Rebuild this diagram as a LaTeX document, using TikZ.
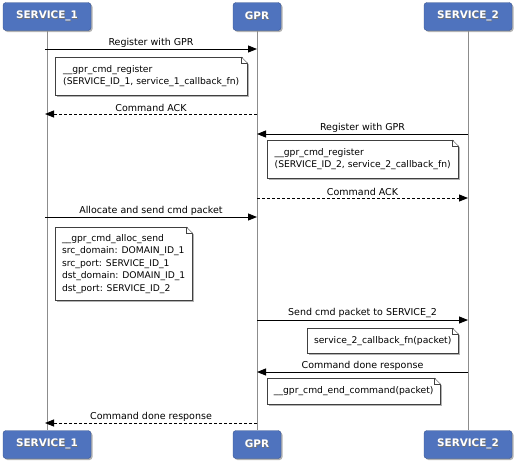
\documentclass[tikz,border=0pt]{standalone}
\usepackage{fontspec}
\setmainfont{DejaVu Sans}
\usetikzlibrary{arrows.meta}
\usetikzlibrary{shadows}
\definecolor{actorblue}{RGB}{79,115,190}
\colorlet{notedraw}{black!75}

% white header text with a dark shadow behind it
\newcommand{\shadowtext}[1]{\makebox[0pt][l]{\hspace{0.7pt}\raisebox{-0.7pt}{\textcolor{black!55}{#1}}}#1}
% folded corner of a note
\newcommand{\dogear}[1]{%
  \fill[white] ([xshift=-6pt,yshift=1pt]#1.north east) -- ([xshift=3pt,yshift=1pt]#1.north east) -- ([xshift=3pt,yshift=-9pt]#1.north east) -- cycle;
  \draw[notedraw] ([xshift=-6pt]#1.north east) -- ([yshift=-6pt]#1.north east);
  \draw[notedraw] ([xshift=-6pt]#1.north east) -- ([xshift=-6pt,yshift=-6pt]#1.north east) -- ([yshift=-6pt]#1.north east);
}

\tikzset{
  actor/.style={draw=actorblue!75!black, fill=actorblue, rounded corners=3pt,
    minimum height=28pt, inner sep=0pt, text=white,
    font=\fontsize{10.4}{12}\selectfont\bfseries,
    drop shadow={shadow xshift=1.5pt, shadow yshift=-1.5pt, fill=black!50, opacity=0.6}},
  lifeline/.style={draw=black!45, line width=0.6pt},
  msg/.style={line width=0.9pt, -{Triangle[length=9pt,width=7pt]}},
  reply/.style={msg, dash pattern=on 3pt off 2pt},
  msglabel/.style={above, inner sep=1.5pt, font=\fontsize{9.5}{11}\selectfont},
  note/.style={draw=notedraw, fill=white, anchor=north west, align=left,
    inner xsep=5pt, inner ysep=0pt, font=\fontsize{9.2}{12}\selectfont,
    drop shadow={shadow xshift=2pt, shadow yshift=-2pt, fill=black!50, opacity=0.6}},
}

\begin{document}
\begin{tikzpicture}[x=1pt,y=-1pt]
  \useasboundingbox (0,0) rectangle (516,464);

  % ---------- Actors ----------
  \node[actor, minimum width=88pt] at (47,16.5) (s1top) {\shadowtext{SERVICE\_1}};
  \node[actor, minimum width=48pt] at (257,16.5) (gprtop) {\shadowtext{GPR}};
  \node[actor, minimum width=88pt] at (468,16.5) (s2top) {\shadowtext{SERVICE\_2}};

  \node[actor, minimum width=88pt] at (47,444.5) (s1bot) {\shadowtext{SERVICE\_1}};
  \node[actor, minimum width=48pt] at (257,444.5) (gprbot) {\shadowtext{GPR}};
  \node[actor, minimum width=88pt] at (468,444.5) (s2bot) {\shadowtext{SERVICE\_2}};

  % ---------- Lifelines ----------
  \draw[lifeline] (s1top) -- (s1bot);
  \draw[lifeline] (gprtop) -- (gprbot);
  \draw[lifeline] (s2top) -- (s2bot);

  % message rows on each lifeline
  \foreach \r/\yy in {1/49, 2/114, 3/134, 4/198, 5/217, 6/320, 7/372, 8/423} {
    \coordinate (s1r\r) at (45,\yy);
    \coordinate (gprr\r) at (257,\yy);
    \coordinate (s2r\r) at (468,\yy);
  }

  % ---------- Messages ----------
  \draw[msg] (s1r1) -- (gprr1) node[msglabel, midway] {Register with GPR};
  \draw[reply] (gprr2) -- (s1r2) node[msglabel, midway] {Command ACK};
  \draw[msg] (s2r3) -- (gprr3) node[msglabel, midway] {Register with GPR};
  \draw[reply] (gprr4) -- (s2r4) node[msglabel, midway] {Command ACK};
  \draw[msg] (s1r5) -- (gprr5) node[msglabel, midway] {Allocate and send cmd packet};
  \draw[msg] (gprr6) -- (s2r6) node[msglabel, midway] {Send cmd packet to SERVICE\_2};
  \draw[msg] (s2r7) -- (gprr7) node[msglabel, midway] {Command done response};
  \draw[reply] (gprr8) -- (s1r8) node[msglabel, midway] {Command done response};

  % ---------- Notes ----------
  \node[note, minimum width=192pt, minimum height=38pt] at (55,57) (regone)
    {\_\_gpr\_cmd\_register\\(SERVICE\_ID\_1, service\_1\_callback\_fn)};
  \dogear{regone}
  \node[note, minimum width=191pt, minimum height=38pt] at (267,140) (regtwo)
    {\_\_gpr\_cmd\_register\\(SERVICE\_ID\_2, service\_2\_callback\_fn)};
  \dogear{regtwo}
  \node[note, minimum width=137pt, minimum height=73pt, font=\fontsize{9.2}{12.5}\selectfont] at (55,227) (allocsend)
    {\_\_gpr\_cmd\_alloc\_send\\src\_domain: DOMAIN\_ID\_1\\src\_port: SERVICE\_ID\_1\\dst\_domain: DOMAIN\_ID\_1\\dst\_port: SERVICE\_ID\_2};
  \dogear{allocsend}
  \node[note, minimum width=151pt, minimum height=25pt] at (307,328) (callback)
    {service\_2\_callback\_fn(packet)};
  \dogear{callback}
  \node[note, minimum width=173pt, minimum height=26pt] at (267,378) (endcmd)
    {\_\_gpr\_cmd\_end\_command(packet)};
  \dogear{endcmd}
\end{tikzpicture}
\end{document}
